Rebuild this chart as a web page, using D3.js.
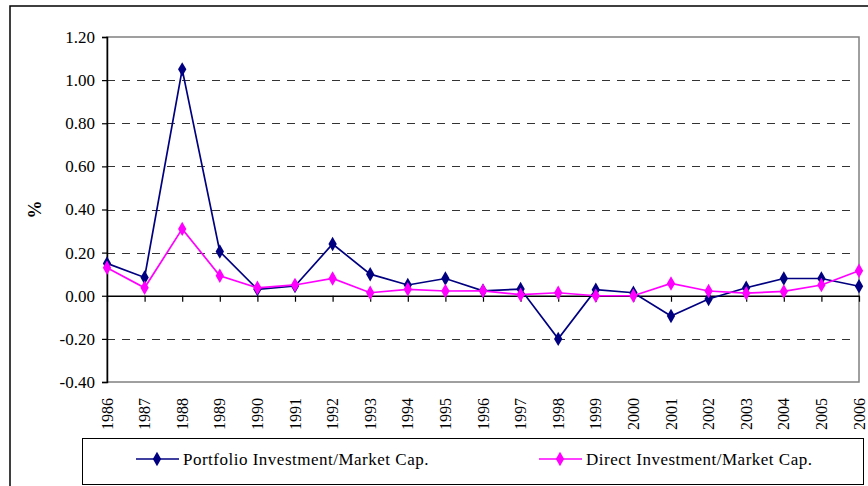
<!DOCTYPE html>
<html>
<head>
<meta charset="utf-8">
<style>
  body { margin: 0; background: #fff; }
  text { font-family: "Liberation Serif", "Times New Roman", serif; }
</style>
</head>
<body>
<script src="https://cdn.jsdelivr.net/npm/d3@7/dist/d3.min.js"></script>
<script>
// data
var years = ["1986","1987","1988","1989","1990","1991","1992","1993","1994","1995","1996",
             "1997","1998","1999","2000","2001","2002","2003","2004","2005","2006"];
var portfolio = [0.15, 0.085, 1.05, 0.205, 0.03, 0.045, 0.24, 0.10, 0.05, 0.08, 0.023,
                 0.031, -0.20, 0.028, 0.014, -0.094, -0.015, 0.037, 0.08, 0.08, 0.044];
var direct = [0.13, 0.037, 0.31, 0.093, 0.037, 0.05, 0.08, 0.014, 0.03, 0.022, 0.023,
              0.005, 0.014, 0.0, 0.0, 0.057, 0.022, 0.012, 0.02, 0.05, 0.116];
var yTicks = [-0.4, -0.2, 0, 0.2, 0.4, 0.6, 0.8, 1.0, 1.2];
var seriesNames = ["Portfolio Investment/Market Cap.", "Direct Investment/Market Cap."];
var seriesColors = ["#000080", "#ff00ff"];

var w = 868, h = 486;
var plotL = 107, plotR = 859, plotT = 37, plotB = 382;

var svg = d3.select("body").append("svg")
    .attr("width", w).attr("height", h);

// outer chart border
svg.append("rect")
    .attr("x", 10).attr("y", 6)
    .attr("width", 880).attr("height", 500)
    .attr("fill", "none").attr("stroke", "#000").attr("stroke-width", 1.5);

var x = d3.scalePoint().domain(years).range([plotL, plotR]);
var y = d3.scaleLinear().domain([-0.4, 1.2]).range([plotB, plotT]);

// plot area border
svg.append("rect")
    .attr("x", plotL).attr("y", plotT)
    .attr("width", plotR - plotL).attr("height", plotB - plotT)
    .attr("fill", "none").attr("stroke", "#808080").attr("stroke-width", 1.5);

// dashed gridlines
svg.append("g").selectAll("line")
    .data(yTicks.filter(function(d) { return d !== 0 && d !== -0.4 && d !== 1.2; }))
    .enter().append("line")
    .attr("x1", plotL).attr("x2", plotR - 6)
    .attr("y1", function(d) { return Math.round(y(d)) + 0.5; })
    .attr("y2", function(d) { return Math.round(y(d)) + 0.5; })
    .attr("stroke", "#333").attr("stroke-width", 1.2)
    .attr("stroke-dasharray", "8,7");

// y axis
var yAxis = d3.axisLeft(y).tickValues(yTicks).tickSize(5).tickPadding(7)
    .tickFormat(function(d) { return d.toFixed(2); });
var gy = svg.append("g").attr("transform", "translate(" + plotL + ",0)").call(yAxis);
gy.attr("font-family", null).attr("font-size", null);
gy.select(".domain").attr("stroke", "#000").attr("stroke-width", 1.5);
gy.selectAll(".tick line").attr("stroke", "#000").attr("stroke-width", 1.2);
gy.selectAll(".tick text")
    .style("font-family", "'Liberation Serif', serif").style("font-size", "17px").attr("fill", "#000");

// x axis at zero
var xAxis = d3.axisBottom(x).tickSize(6).tickSizeOuter(0).tickFormat("");
var gx = svg.append("g").attr("transform", "translate(0," + y(0) + ")").call(xAxis);
gx.select(".domain").attr("stroke", "#000").attr("stroke-width", 1.5);
gx.selectAll(".tick line").attr("stroke", "#000").attr("stroke-width", 1.2);

// year labels at the bottom
svg.append("g").selectAll("text")
    .data(years).enter().append("text")
    .attr("transform", function(d) { return "translate(" + (x(d) + 5.5) + ",398) rotate(-90)"; })
    .attr("text-anchor", "end")
    .style("font-size", "16px")
    .text(function(d) { return d; });

// y axis title
svg.append("text")
    .attr("transform", "translate(41," + ((plotT + plotB) / 2) + ") rotate(-90)")
    .attr("text-anchor", "middle")
    .style("font-size", "18px").attr("font-weight", "bold")
    .text("%");

var line = d3.line()
    .x(function(d, i) { return x(years[i]); })
    .y(function(d) { return y(d); });

var diamond = d3.symbol().type(d3.symbolDiamond).size(60);

[portfolio, direct].forEach(function(vals, k) {
  svg.append("path").datum(vals)
      .attr("d", line)
      .attr("fill", "none")
      .attr("stroke", seriesColors[k]).attr("stroke-width", 1.7);
  svg.append("g").selectAll("path")
      .data(vals).enter().append("path")
      .attr("d", diamond)
      .attr("transform", function(d, i) { return "translate(" + x(years[i]) + "," + y(d) + ")"; })
      .attr("fill", seriesColors[k]);
});

// legend
svg.append("rect")
    .attr("x", 82.5).attr("y", 438.5)
    .attr("width", 781).attr("height", 46)
    .attr("fill", "#fff").attr("stroke", "#000").attr("stroke-width", 1);

var legendX = [136, 539];
seriesNames.forEach(function(name, k) {
  var g = svg.append("g").attr("transform", "translate(" + legendX[k] + ",459)");
  g.append("line").attr("x1", 0).attr("x2", 43)
      .attr("stroke", seriesColors[k]).attr("stroke-width", 1.7);
  g.append("path").attr("d", diamond).attr("transform", "translate(21,0)")
      .attr("fill", seriesColors[k]);
  g.append("text").attr("x", 47).attr("y", 6)
      .style("font-size", "17px").attr("letter-spacing", 0.5)
      .text(name);
});
</script>
</body>
</html>
